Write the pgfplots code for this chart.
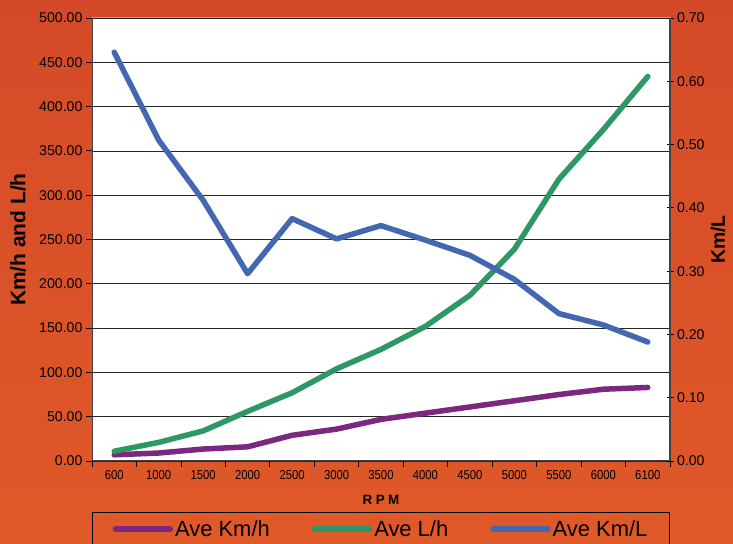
\documentclass[border=0pt]{standalone}
\usepackage{fontspec}
\setmainfont{Liberation Sans}
\newfontfamily\condfont[FakeStretch=0.87]{Liberation Sans}
\usepackage{pgfplots}
\pgfplotsset{compat=1.18}
\definecolor{bgtop}{RGB}{212,74,40}
\definecolor{bgbot}{RGB}{224,89,40}
\definecolor{cpurple}{RGB}{125,40,128}
\definecolor{cgreen}{RGB}{45,152,100}
\definecolor{cblue}{RGB}{68,103,178}
\pgfplotsset{
  common/.style={
    scale only axis, width=578bp, height=443bp,
    at={(92bp,83bp)}, anchor=south west,
    xmin=-0.5, xmax=12.5,
  },
  serie/.style={line width=5.5bp, line join=round, line cap=round},
}
\begin{document}
\begin{tikzpicture}
\fill[top color=bgtop, bottom color=bgbot] (0,0) rectangle (733bp,544bp);
\useasboundingbox (0,0) rectangle (733bp,544bp);
\begin{axis}[common,
  ymin=0, ymax=500, ytick={0,50,...,500},
  axis x line*=bottom, axis y line*=left,
  axis line style={black!75, line width=1bp},
  tick align=outside,
  xtick={0,...,12},
  xticklabels={600,1000,1500,2000,2500,3000,3500,4000,4500,5000,5500,6000,6100},
  minor xtick={-0.5,0.5,...,12.5},
  major x tick style={draw=none},
  minor x tick style={draw=black, line width=0.8bp},
  minor tick length=6bp, major tick length=6bp,
  ytick style={draw=black, line width=0.8bp},
  ymajorgrids, grid style={black!85, line width=0.6bp},
  axis background/.style={fill=white},
  yticklabel style={font=\fontsize{14.2}{16}\selectfont, /pgf/number format/.cd, fixed, fixed zerofill, precision=2, assume math mode=true},
  xticklabel style={font=\condfont\fontsize{13}{14}\selectfont},
  xlabel={\textbf{R\hspace{3.5bp}P\hspace{3.5bp}M}},
  xlabel style={at={(axis description cs:0.5,-0.088)}, anchor=center, font=\fontsize{13.5}{15}\selectfont},
  ylabel={Km/h and L/h},
  ylabel style={at={(axis description cs:-0.128,0.5)}, anchor=center, font=\fontsize{21}{24}\selectfont\bfseries},
]
\addplot[cpurple, serie] coordinates {
 (0,7) (1,9) (2,13.5) (3,16) (4,29) (5,36) (6,47) (7,54) (8,61) (9,68) (10,75) (11,81) (12,83)};
\addplot[cgreen, serie] coordinates {
 (0,11) (1,21) (2,34) (3,56) (4,77) (5,104) (6,126) (7,152) (8,187) (9,239) (10,318) (11,374) (12,434)};
\draw[black!35, line width=1bp] (rel axis cs:0,1) -- (rel axis cs:1,1);
\end{axis}
\begin{axis}[common,
  ymin=0, ymax=0.7, ytick={0,0.1,0.2,0.3,0.4,0.5,0.6,0.7},
  axis y line*=right, axis x line=none,
  axis line style={black!75, line width=1.5bp},
  tick align=center, major tick length=7bp,
  ytick style={draw=black, line width=0.8bp},
  yticklabel style={font=\fontsize{14.2}{16}\selectfont, /pgf/number format/.cd, fixed, fixed zerofill, precision=2, assume math mode=true},
  ylabel={Km/L},
  ylabel style={at={(axis description cs:1.083,0.5)}, anchor=center, inner sep=1bp, font=\fontsize{19.5}{22}\selectfont\bfseries},
  legend columns=3, legend cell align=left,
  legend style={at={(axis description cs:0.5,-0.1151)}, anchor=north, draw=black, line width=1bp, fill=none,
    font=\fontsize{22}{24}\selectfont, inner xsep=20bp, inner ysep=6bp,
    /tikz/every even column/.append style={column sep=40bp}},
  legend image code/.code={\draw[#1] (0bp,0bp) -- (55bp,0bp);},
]
\addlegendimage{cpurple, serie}
\addlegendentry{Ave Km/h}
\addlegendimage{cgreen, serie}
\addlegendentry{Ave L/h}
\addplot[cblue, serie] coordinates {
 (0,0.646) (1,0.507) (2,0.412) (3,0.296) (4,0.383) (5,0.351) (6,0.372) (7,0.349) (8,0.325) (9,0.287) (10,0.233) (11,0.215) (12,0.188)};
\addlegendentry{Ave Km/L}
\end{axis}
\end{tikzpicture}
\end{document}
